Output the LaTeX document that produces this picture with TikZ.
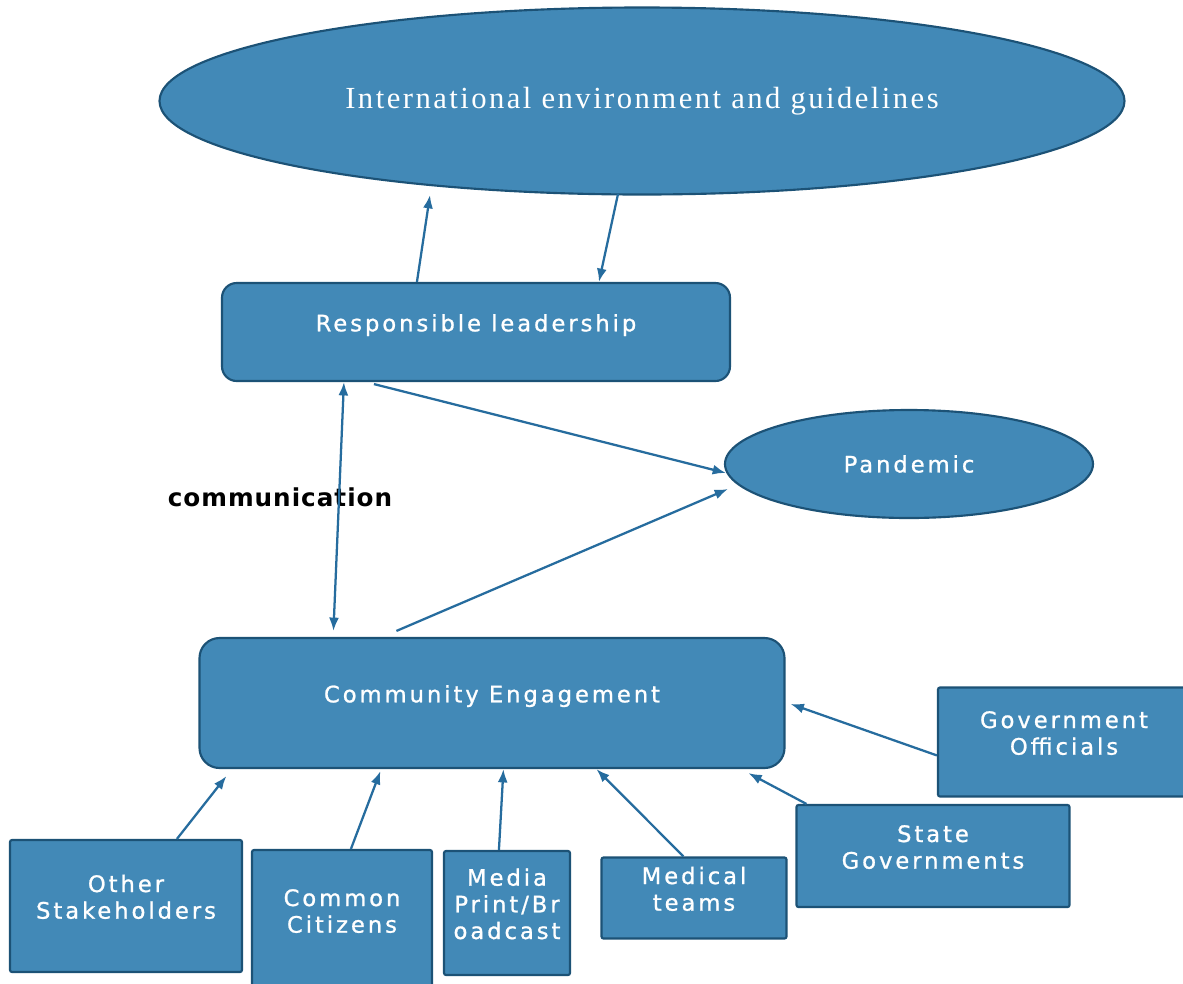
\documentclass[tikz,border=0pt]{standalone}
\usepackage{fontspec}
\usetikzlibrary{shapes.geometric,arrows.meta,calc}
\setmainfont{Liberation Serif}
\newfontfamily\boxfont[LetterSpace=13,FakeBold=1]{DejaVu Sans}
\newfontfamily\commfont[LetterSpace=4]{DejaVu Sans Bold}
\newfontfamily\serifwide[LetterSpace=8]{Liberation Serif}
\newcommand\liftup[1]{\raisebox{0pt}[\height][\dimexpr\depth+9pt\relax]{\begin{tabular}{@{}c@{}}#1\end{tabular}}}
\definecolor{boxfill}{RGB}{66,137,183}
\definecolor{boxline}{RGB}{28,82,118}
\definecolor{arrowc}{RGB}{38,108,158}
\tikzset{
  base/.style={fill=boxfill, draw=boxline, line width=1.6pt, text=white, inner sep=0pt},
  ell/.style={base, ellipse},
  roundbox/.style={base, rectangle, rounded corners=11pt},
  bigbox/.style={base, rectangle, rounded corners=15pt},
  smallbox/.style={base, rectangle, rounded corners=1.5pt},
  boxtext/.style={font=\boxfont\fontsize{17}{20}\selectfont},
  conn/.style={draw=arrowc, line width=1.7pt, -{Latex[length=10pt,width=7.5pt]}},
  bconn/.style={draw=arrowc, line width=1.7pt, {Latex[length=10pt,width=7.5pt]}-{Latex[length=10pt,width=7.5pt]}}
}
\begin{document}
\begin{tikzpicture}[x=0.75pt,y=-0.75pt]
\useasboundingbox[fill=white] (0,0) rectangle (1183,983);
% nodes
\node[ell, minimum width=723.75pt, minimum height=140.25pt, font=\serifwide\fontsize{23}{27}\selectfont] (intl) at (642,101) {International environment and guidelines};
\node[roundbox, minimum width=381pt, minimum height=73.5pt, boxtext] (lead) at (476,332) {\liftup{Responsible leadership}};
\node[ell, minimum width=276pt, minimum height=81pt, boxtext] (pand) at (909,464) {Pandemic};
\node[bigbox, minimum width=438.75pt, minimum height=97.5pt, boxtext] (comm) at (492,703) {\liftup{Community Engagement}};
\node[font=\commfont\fontsize{18.5}{22}\selectfont, text=black, inner sep=0pt] (commlabel) at (280,497) {communication};
\node[smallbox, minimum width=189pt, minimum height=81.75pt, boxtext] (gov) at (1064,742) {\liftup{Government\\Officials}};
\node[smallbox, minimum width=204.75pt, minimum height=76.5pt, boxtext] (state) at (933,856) {\liftup{State\\Governments}};
\node[smallbox, minimum width=138.75pt, minimum height=60.75pt, boxtext] (med) at (694,898) {\liftup{Medical\\teams}};
\node[smallbox, minimum width=94.5pt, minimum height=93pt, boxtext] (media) at (507,913) {\liftup{Media\\Print/Br\\oadcast}};
\node[smallbox, minimum width=135pt, minimum height=105pt, boxtext] (common) at (342,920) {\liftup{Common\\Citizens}};
\node[smallbox, minimum width=174pt, minimum height=99pt, boxtext] (other) at (126,906) {\liftup{Other\\Stakeholders}};
% connectors
\draw[conn] ($(lead.north west)+(196,0)$) -- ($(intl.center)+(-212,94)$);
\draw[conn] ($(intl.center)+(-24,93)$) -- ($(lead.north west)+(378,0)$);
\draw[bconn] ($(lead.south west)+(123,0)$) -- ($(comm.north west)+(135,-6)$);
\draw[conn] ($(lead.south west)+(153,2)$) -- ($(pand.center)+(-183,9)$);
\draw[conn] ($(comm.north west)+(198,-6)$) -- ($(pand.center)+(-181,25)$);
\draw[conn] ($(other.north west)+(168,0)$) -- ($(comm.south west)+(28,7)$);
\draw[conn] ($(common.north west)+(100,0)$) -- ($(comm.south west)+(182,2)$);
\draw[conn] ($(media.north west)+(56,0)$) -- ($(comm.south west)+(305,0)$);
\draw[conn] ($(med.north west)+(83,0)$) -- ($(comm.south west)+(398,0)$);
\draw[conn] ($(state.north west)+(11,0)$) -- ($(comm.south west)+(550,4)$);
\draw[conn] ($(gov.north west)+(0,69)$) -- ($(comm.north east)+(5,67)$);
\end{tikzpicture}
\end{document}
